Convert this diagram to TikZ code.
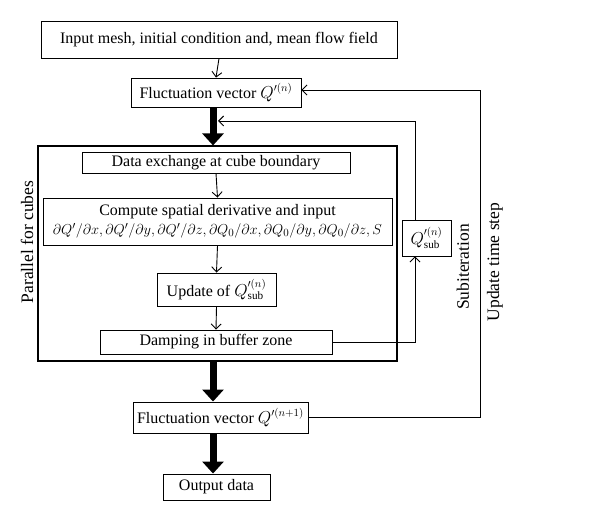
\documentclass[tikz,border=0pt]{standalone}
\usepackage{fontspec}
\setmainfont{Liberation Serif}
\usetikzlibrary{arrows.meta}
\begin{document}
\begin{tikzpicture}[x=1pt,y=-1pt,
 box/.style={draw,line width=0.9pt,inner sep=0pt,font=\fontsize{16}{18}\selectfont,align=center},
 thinarrow/.style={line width=0.9pt,-{Straight Barb[length=5pt,width=10pt]}},
 plainline/.style={line width=0.9pt},
 thickarrow/.style={line width=7pt,-{Triangle[length=12pt,width=21pt]}},
 vlabel/.style={rotate=90,font=\fontsize{17.5}{19}\selectfont}]
\useasboundingbox (0,0) rectangle (600,521);
\node[box,minimum width=356pt,minimum height=37pt] (input) at (219,39.5) {Input mesh, initial condition and, mean flow field};
\node[box,minimum width=170pt,minimum height=29pt] (fluct1) at (216,92.5) {Fluctuation vector $Q'^{(n)}$};
\node[draw,line width=1.1pt,minimum width=359pt,minimum height=215pt,inner sep=0pt] (frame) at (217.5,253.5) {};
\node[box,minimum width=268pt,minimum height=21pt] (data) at (216,162.5) {Data exchange at cube boundary};
\node[box,minimum width=349pt,minimum height=47pt] (comp) at (217.5,221.5) {Compute spatial derivative and input\\[1pt] {\fontsize{15.2}{17}\selectfont$\partial Q'/\partial x, \partial Q'/\partial y, \partial Q'/\partial z, \partial Q_0/\partial x, \partial Q_0/\partial y, \partial Q_0/\partial z, S$}};
\node[box,minimum width=119pt,minimum height=33pt] (upd) at (216.5,289.5) {Update of $Q'^{(n)}_{\mathrm{sub}}$};
\node[box,minimum width=232pt,minimum height=24pt] (damp) at (216,342) {Damping in buffer zone};
\node[box,minimum width=49pt,minimum height=36pt] (qsub) at (426.5,238) {$Q'^{(n)}_{\mathrm{sub}}$};
\node[box,minimum width=175pt,minimum height=31pt] (fluct2) at (220.5,417.5) {Fluctuation vector $Q'^{(n+1)}$};
\node[box,minimum width=107pt,minimum height=26pt] (out) at (216.5,487) {Output data};
\node[vlabel] (par) at (27,242) {Parallel for cubes};
\node[vlabel] (subit) at (463,267) {Subiteration};
\node[vlabel] (upts) at (495,262) {Update time step};
\coordinate (tx) at (213,0);
\coordinate (sub) at (415,121);
\coordinate (subend) at (218,121);
\coordinate (ts1) at (480,90);
\coordinate (ts2) at (480,417);
% thin arrows
\draw[thinarrow] (input.south) -- (fluct1.north);
\draw[thinarrow] (data.south) -- (comp.north);
\draw[thinarrow] (comp.south) -- (upd.north);
\draw[thinarrow] (upd.south) -- (damp.north);
% thick arrows
\draw[thickarrow] (fluct1.south -| tx) -- (frame.north -| tx);
\draw[thickarrow] (frame.south -| tx) -- (fluct2.north -| tx);
\draw[thickarrow] (fluct2.south -| tx) -- (out.north -| tx);
% subiteration loop
\draw[thinarrow] (damp.east) -- (damp.east -| sub) -- (qsub.south -| sub);
\draw[thinarrow] (qsub.north -| sub) -- (sub) -- (subend);
% time step loop
\draw[thinarrow] (fluct2.east) -- (fluct2.east -| ts2) -- (ts1) -- (ts1 -| fluct1.east);
\end{tikzpicture}
\end{document}
